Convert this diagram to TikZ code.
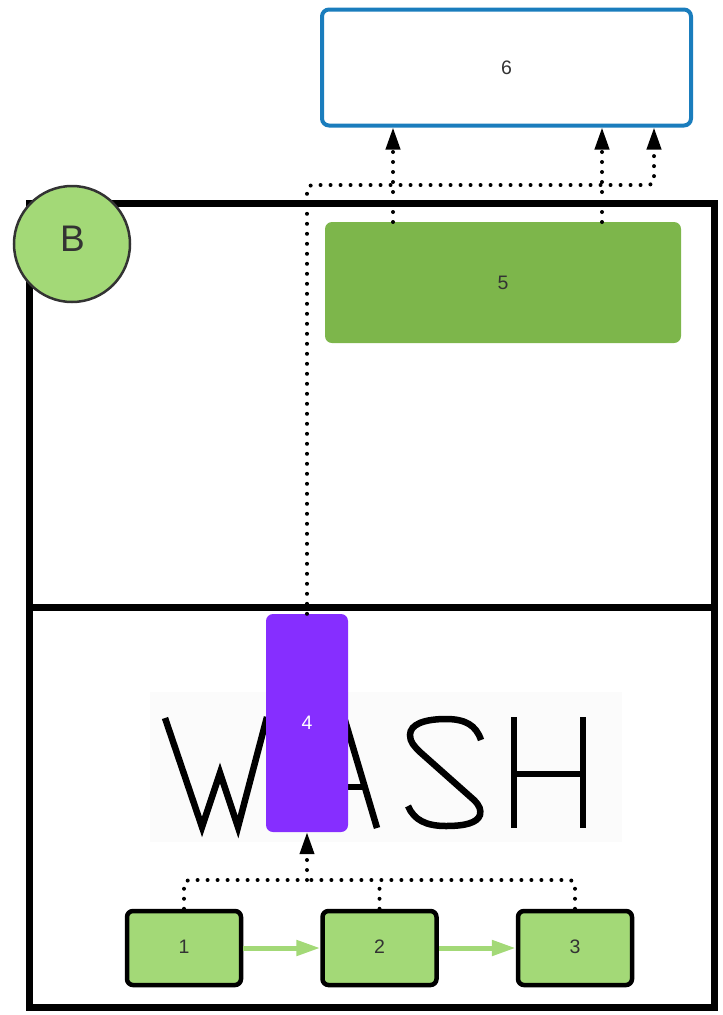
\documentclass[tikz,border=0pt]{standalone}
\usepackage{fontspec}
\setmainfont{Liberation Sans}
\usetikzlibrary{arrows.meta}
\definecolor{leaf}{HTML}{A3D977}
\definecolor{moss}{HTML}{7DB64B}
\definecolor{violet}{HTML}{862EFF}
\definecolor{ocean}{HTML}{1A7DBD}
\definecolor{ink}{HTML}{333333}
\newcommand\digitsize{\fontsize{19.5pt}{22pt}\selectfont}
\tikzset{
  px/.style={x=1pt,y=-1pt},
  digitfont/.style={font=\digitsize},
  stepbox/.style={draw=black,line width=4.5pt,fill=leaf,rounded corners=6pt,
    minimum width=114pt,minimum height=74pt,inner sep=0pt,text=ink,digitfont},
  flowarrow/.style={draw=leaf,line width=5pt,-{Triangle[width=15pt,length=24pt]}},
  dotlink/.style={draw=black,line width=4pt,line cap=round,dash pattern=on 0pt off 10pt,
    rounded corners=5pt,-{Triangle[width=14pt,length=22pt]}},
  dotpath/.style={draw=black,line width=4pt,line cap=round,dash pattern=on 0pt off 10pt,
    rounded corners=5pt},
  wash/.style={draw=black,line width=6.5pt,line join=miter},
}
\begin{document}
\begin{tikzpicture}[px]
\useasboundingbox (0,0) rectangle (723,1015);

% outer frame and lane divider
\draw[line width=7pt] (29,203) rectangle (714,1007);
\draw[line width=7pt] (29,607) -- (714,607);

% lettering in the lower lane
\fill[black!1.5] (150,692) rectangle (622,842);
\draw[wash] (165,718) -- (202,827) -- (220,773) -- (238,827) -- (267,717);
\draw[wash] (311,828) -- (344,717) -- (377,828);
\draw[wash] (325,787) -- (364,787);
\draw[wash] (481,740) .. controls (476,725) and (465,719) .. (446,719)
  .. controls (425,719) and (410,724) .. (410,735)
  .. controls (410,742) and (414,746) .. (420,752) -- (474,800)
  .. controls (480,806) and (481,810) .. (480,815)
  .. controls (477,823) and (465,826) .. (446,826)
  .. controls (426,826) and (414,820) .. (408,806);
\draw[wash] (514,717) -- (514,828) (583,717) -- (583,828) (514,774) -- (583,774);

% badge
\node[circle,draw=ink,line width=2.5pt,fill=leaf,minimum size=116pt,inner sep=0pt] (badge) at (72,244) {};
\node[text=ink,font=\fontsize{37pt}{40pt}\selectfont,inner sep=0pt] (badgetext) at (72.5,238.5) {B};

% nodes
\node[draw=ocean,line width=4pt,fill=white,rounded corners=7pt,minimum width=369pt,
  minimum height=116pt,inner sep=0pt,text=ink,digitfont] (n6) at (506.5,67.5) {6};
\node[fill=moss,rounded corners=7pt,minimum width=356pt,minimum height=121pt,inner sep=0pt,
  text=ink,digitfont] (n5) at (503,282.5) {5};
\node[fill=violet,rounded corners=7pt,minimum width=82pt,minimum height=218pt,inner sep=0pt,
  text=white,digitfont] (n4) at (307,723) {4};
\node[stepbox] (n1) at (184,948) {\raisebox{2.5pt}{1}};
\node[stepbox] (n2) at (379.5,948) {\raisebox{2.5pt}{2}};
\node[stepbox] (n3) at (575,948) {\raisebox{2.5pt}{3}};

% flow between steps
\draw[flowarrow] (n1.east) -- (n2.west);
\draw[flowarrow] (n2.east) -- (n3.west);

% steps merge into 4
\draw[dotpath] (n1.north) |- (307,880);
\draw[dotpath] (n3.north) |- (307,880);
\draw[dotpath] (n2.north) -- (379.5,880);
\draw[dotlink] (307,880) -- (n4.south);

% 4 and 5 feed 6
\draw[dotlink] (n4.north) -- (307,185) -- (654,185) -- (654,127.5);
\draw[dotlink] (393,222) -- (393,127.5);
\draw[dotlink] (602,222) -- (602,127.5);
\end{tikzpicture}
\end{document}
